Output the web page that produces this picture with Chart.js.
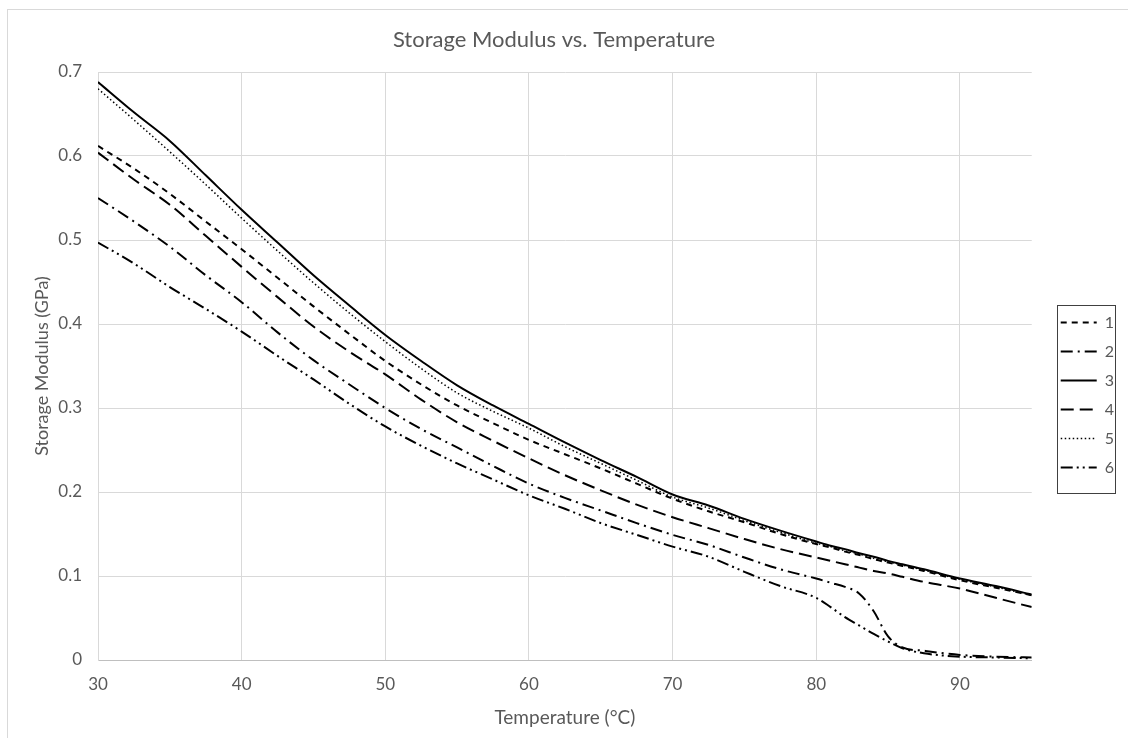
<!DOCTYPE html>
<html>
<head>
<meta charset="utf-8">
<script src="https://cdn.jsdelivr.net/npm/chart.js@4.4.1/dist/chart.umd.min.js"></script>
<style>
  body { margin: 0; background: #fff; overflow: hidden; }
  #wrap { position: relative; width: 1128px; height: 738px; }
  #frame { position: absolute; left: 7px; top: 9px; width: 1200px; height: 800px; border: 1px solid #d9d9d9; }
  #chart { position: absolute; left: 0; top: 0; }
</style>
</head>
<body>
<div id="wrap">
  <div id="frame"></div>
  <canvas id="chart" width="1128" height="738"></canvas>
</div>
<script>
// temperature (°C)
const temps = [30, 32.5, 35, 37.5, 40, 42.5, 45, 47.5, 50, 52.5, 55, 57.5, 60, 62.5, 65, 67.5, 70, 72.5, 75, 77.5, 80, 81, 82, 83, 84, 85, 86, 87.5, 90, 92.5, 95];

// storage modulus (GPa), one array per sample
const sample1 = [0.612, 0.585, 0.555, 0.522, 0.489, 0.455, 0.421, 0.388, 0.356, 0.328, 0.303, 0.282, 0.262, 0.245, 0.228, 0.210, 0.192, 0.177, 0.164, 0.150, 0.138, 0.134, 0.129, 0.125, 0.120, 0.116, 0.112, 0.106, 0.095, 0.086, 0.077];
const sample2 = [0.550, 0.522, 0.492, 0.458, 0.426, 0.390, 0.357, 0.328, 0.300, 0.275, 0.253, 0.231, 0.210, 0.193, 0.178, 0.163, 0.149, 0.137, 0.122, 0.108, 0.097, 0.092, 0.087, 0.079, 0.058, 0.028, 0.015, 0.011, 0.006, 0.004, 0.003];
const sample3 = [0.688, 0.652, 0.618, 0.577, 0.536, 0.497, 0.458, 0.422, 0.387, 0.356, 0.327, 0.303, 0.281, 0.259, 0.238, 0.218, 0.197, 0.184, 0.168, 0.154, 0.141, 0.136, 0.132, 0.127, 0.123, 0.118, 0.114, 0.108, 0.097, 0.088, 0.078];
const sample4 = [0.604, 0.572, 0.542, 0.505, 0.468, 0.432, 0.397, 0.367, 0.340, 0.310, 0.283, 0.261, 0.240, 0.220, 0.202, 0.185, 0.170, 0.157, 0.144, 0.132, 0.122, 0.118, 0.114, 0.110, 0.106, 0.103, 0.099, 0.093, 0.085, 0.074, 0.063];
const sample5 = [0.680, 0.643, 0.605, 0.566, 0.526, 0.487, 0.449, 0.413, 0.379, 0.347, 0.318, 0.296, 0.276, 0.254, 0.234, 0.214, 0.194, 0.181, 0.166, 0.152, 0.139, 0.135, 0.130, 0.126, 0.121, 0.117, 0.113, 0.107, 0.096, 0.087, 0.077];
const sample6 = [0.497, 0.472, 0.444, 0.418, 0.391, 0.362, 0.334, 0.305, 0.278, 0.255, 0.234, 0.215, 0.196, 0.180, 0.163, 0.149, 0.135, 0.123, 0.105, 0.088, 0.074, 0.063, 0.051, 0.041, 0.031, 0.022, 0.014, 0.008, 0.004, 0.003, 0.002];

const seriesLabels = ["1", "2", "3", "4", "5", "6"];
const seriesValues = [sample1, sample2, sample3, sample4, sample5, sample6];
const dashes = [[6, 5], [12, 5, 2, 5], [], [13, 6], [1.5, 2.5], [12, 4, 2, 4, 2, 4]];
const widths = [2, 2, 2, 2, 1.5, 2];

const textColor = "#595959";
const fontFamily = "Lato, 'Open Sans', sans-serif";

function MakeDatasets()
{
	let sets = [];
	for (let i = 0; i < seriesValues.length; i++)
	{
		sets.push({
			label: seriesLabels[i],
			data: temps.map((t, j) => ({ x: t, y: seriesValues[i][j] })),
			borderColor: "#000",
			backgroundColor: "#000",
			borderWidth: widths[i],
			borderDash: dashes[i],
			pointRadius: 0,
			cubicInterpolationMode: "monotone",
			fill: false
		});
	}
	return sets;
}

function LegendLabels(chart)
{
	const items = Chart.defaults.plugins.legend.labels.generateLabels(chart);
	items.forEach((item, i) =>
	{
		item.lineDash = dashes[i];
		item.lineWidth = widths[i];
		item.strokeStyle = "#000";
		item.pointStyle = "line";
	});
	return items;
}

// move the legend down/right to where it sits in the original and box it
const legendBox =
{
	id: "legendBox",
	afterLayout(chart)
	{
		const lg = chart.legend;
		lg.left += 16; lg.right += 16;
		lg.top += 26; lg.bottom += 26;
	},
	afterDraw(chart)
	{
		const ctx = chart.ctx;
		ctx.save();
		ctx.strokeStyle = "#404040";
		ctx.lineWidth = 1;
		ctx.setLineDash([]);
		ctx.strokeRect(1057.5, 305.5, 58, 188);
		ctx.restore();
	}
};

new Chart(document.getElementById("chart"),
{
	type: "line",
	data: { datasets: MakeDatasets() },
	plugins: [legendBox],
	options:
	{
		responsive: false,
		animation: false,
		devicePixelRatio: 1,
		layout: { padding: { left: 0, right: 20, top: 0, bottom: 0 } },
		plugins:
		{
			title:
			{
				display: true,
				text: "Storage Modulus vs. Temperature",
				color: textColor,
				font: { family: fontFamily, size: 22, weight: "normal" },
				padding: { top: 27, bottom: 18.6 }
			},
			legend:
			{
				position: "right",
				labels:
				{
					usePointStyle: true,
					pointStyle: "line",
					pointStyleWidth: 36,
					color: textColor,
					padding: 13,
					font: { family: fontFamily, size: 16 },
					generateLabels: LegendLabels
				}
			},
			tooltip: { enabled: false }
		},
		scales:
		{
			x:
			{
				type: "linear",
				min: 30,
				max: 95,
				afterBuildTicks: (scale) => { scale.ticks = scale.ticks.filter(t => t.value <= 90); },
				afterFit: (scale) => { scale.height = 78; },
				ticks: { stepSize: 10, color: textColor, padding: 14, font: { family: fontFamily, size: 17 } },
				grid: { color: "#d9d9d9", drawTicks: false },
				border: { color: "#bfbfbf" },
				title:
				{
					display: true,
					text: "Temperature (°C)",
					color: textColor,
					font: { family: fontFamily, size: 19 },
					padding: { top: 0, bottom: 9 }
				}
			},
			y:
			{
				min: 0,
				max: 0.7,
				afterFit: (scale) => { scale.width = 98; },
				ticks:
				{
					stepSize: 0.1,
					color: textColor,
					padding: 16,
					font: { family: fontFamily, size: 17 },
					callback: (v) => v === 0 ? "0" : v.toFixed(1)
				},
				grid: { color: "#d9d9d9", drawTicks: false },
				border: { color: "#d9d9d9" },
				title:
				{
					display: true,
					text: "Storage Modulus (GPa)",
					color: textColor,
					font: { family: fontFamily, size: 18 },
					padding: { top: 31, bottom: 0 }
				}
			}
		}
	}
});
</script>
</body>
</html>
